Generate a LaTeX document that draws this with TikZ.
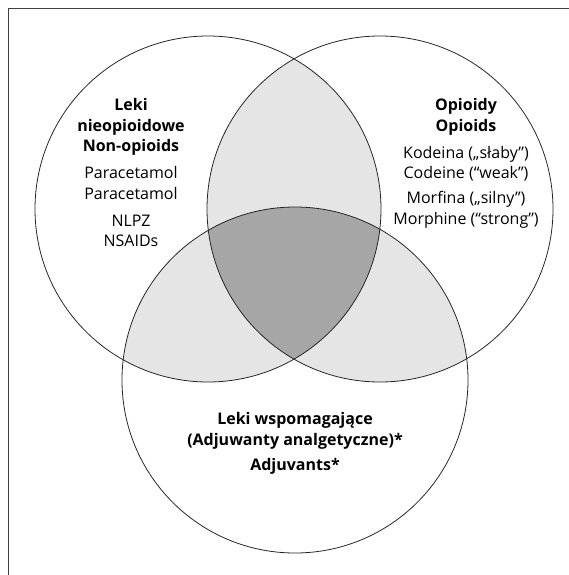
\documentclass[tikz,border=0pt]{standalone}
\usepackage{fontspec}
\setmainfont{Open Sans}
\tikzset{
    ring/.style={draw=black!85, line width=0.8pt},
    pairfill/.style={fill=black!10},
    corefill/.style={fill=black!35},
    label/.style={align=center, inner sep=0pt, font=\fontsize{16}{20.5}\selectfont},
    title/.style={label, font=\fontsize{16}{20.5}\selectfont\bfseries}
}
\begin{document}
\begin{tikzpicture}[x=1pt, y=-1pt]
    \useasboundingbox (0,0) rectangle (569,575);
    \draw[black!75, line width=0.8pt] (8,575) -- (8,8) -- (569,8);
    \coordinate (L) at (208,209);
    \coordinate (R) at (380,209);
    \coordinate (B) at (295,380);
    \begin{scope}
        \clip (L) circle (173);
        \fill[pairfill] (R) circle (173);
        \fill[pairfill] (B) circle (173);
    \end{scope}
    \begin{scope}
        \clip (R) circle (173);
        \fill[pairfill] (B) circle (173);
    \end{scope}
    \begin{scope}
        \clip (L) circle (173);
        \clip (R) circle (173);
        \fill[corefill] (B) circle (173);
    \end{scope}
    \draw[ring] (L) circle (173);
    \draw[ring] (R) circle (173);
    \draw[ring] (B) circle (173);
    \node [title] (nonop) at (131,127) {Leki\\nieopioidowe\\Non-opioids};
    \node [label] (parac) at (131,183) {Paracetamol\\Paracetamol};
    \node [label] (nsaid) at (131,231) {NLPZ\\NSAIDs};
    \node [title] (opioid) at (466,117) {Opioidy\\Opioids};
    \node [label] (codeine) at (466,163.5) {Kodeina („słaby”)\\Codeine (“weak”)};
    \node [label] (morph) at (466,210) {Morfina („silny”)\\Morphine (“strong”)};
    \node [title] (adjpl) at (295,431) {Leki wspomagające\\(Adjuwanty analgetyczne)*};
    \node [title] (adjen) at (295,466) {Adjuvants*};
\end{tikzpicture}
\end{document}
